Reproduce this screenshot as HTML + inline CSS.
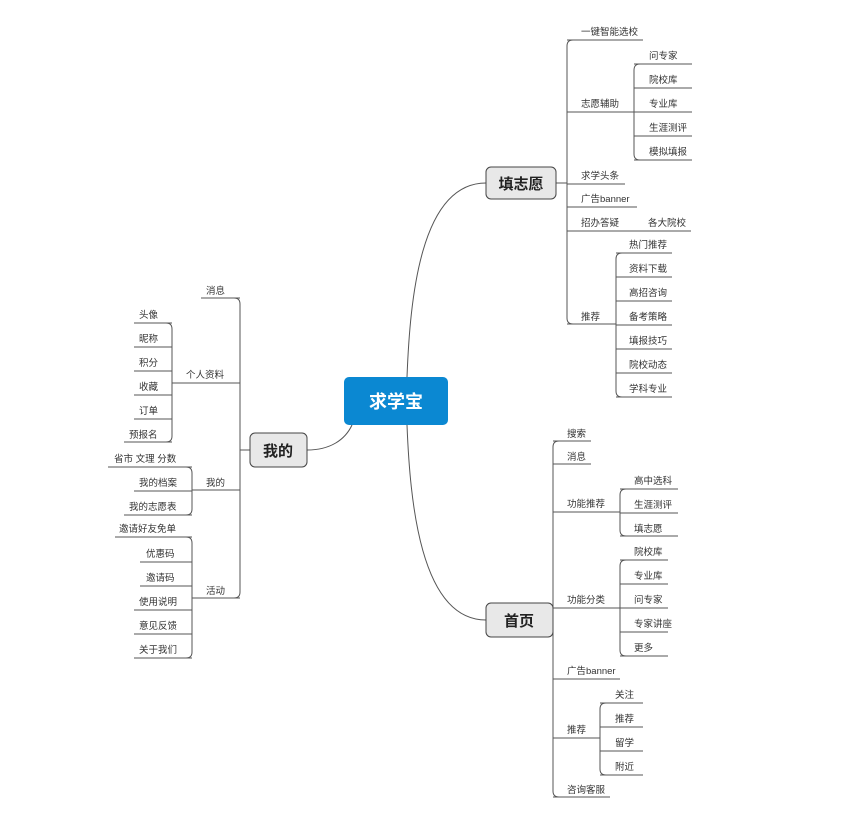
<!DOCTYPE html>
<html><head><meta charset="utf-8"><style>
html,body{margin:0;padding:0;background:#fff;}
svg{display:block;}
text{font-family:"Liberation Sans","Noto Sans CJK SC",sans-serif;font-size:9.5px;fill:#333;}
.l{stroke:#555;stroke-width:1;fill:none;}
.b{font-size:15px;font-weight:bold;fill:#222;}
</style></head><body>
<svg width="854" height="839" viewBox="0 0 854 839" xmlns="http://www.w3.org/2000/svg">
<!-- main curves -->
<path class="l" d="M407,377 C410,300 420,183 486,183"/>
<path class="l" d="M407,425 C410,500 420,620 486,620"/>
<path class="l" d="M352,425 C345,440 330,450 307,450"/>

<!-- center -->
<rect x="344" y="377" width="104" height="48" rx="5" fill="#0b88d2"/>
<text x="396" y="408" text-anchor="middle" style="font-size:18px;font-weight:bold;fill:#fff">求学宝</text>

<!-- 填志愿 -->
<line class="l" x1="556" y1="183" x2="567" y2="183"/>
<path class="l" d="M573,40 Q567,40 567,46 L567,318 Q567,324 573,324"/>
<rect x="486" y="167" width="70" height="32" rx="5" fill="#e8e8e8" stroke="#444"/>
<text x="521" y="189" text-anchor="middle" class="b">填志愿</text>
<line class="l" x1="567" y1="40" x2="643" y2="40"/><text x="581" y="35">一键智能选校</text>
<line class="l" x1="567" y1="112" x2="634" y2="112"/><text x="581" y="107">志愿辅助</text>
<path class="l" d="M640,64 Q634,64 634,70 L634,154 Q634,160 640,160"/>
<line class="l" x1="634" y1="64" x2="692" y2="64"/><text x="649" y="59">问专家</text>
<line class="l" x1="634" y1="88" x2="692" y2="88"/><text x="649" y="83">院校库</text>
<line class="l" x1="634" y1="112" x2="692" y2="112"/><text x="649" y="107">专业库</text>
<line class="l" x1="634" y1="136" x2="692" y2="136"/><text x="649" y="131">生涯测评</text>
<line class="l" x1="634" y1="160" x2="692" y2="160"/><text x="649" y="155">模拟填报</text>
<line class="l" x1="567" y1="184" x2="625" y2="184"/><text x="581" y="179">求学头条</text>
<line class="l" x1="567" y1="207" x2="637" y2="207"/><text x="581" y="202">广告banner</text>
<line class="l" x1="567" y1="231" x2="691" y2="231"/><text x="581" y="226">招办答疑</text><text x="648" y="226">各大院校</text>
<line class="l" x1="567" y1="324" x2="616" y2="324"/><text x="581" y="320">推荐</text>
<path class="l" d="M622,253 Q616,253 616,259 L616,391 Q616,397 622,397"/>
<line class="l" x1="616" y1="253" x2="672" y2="253"/><text x="629" y="248">热门推荐</text>
<line class="l" x1="616" y1="277" x2="672" y2="277"/><text x="629" y="272">资料下载</text>
<line class="l" x1="616" y1="301" x2="672" y2="301"/><text x="629" y="296">高招咨询</text>
<line class="l" x1="616" y1="325" x2="672" y2="325"/><text x="629" y="320">备考策略</text>
<line class="l" x1="616" y1="349" x2="672" y2="349"/><text x="629" y="344">填报技巧</text>
<line class="l" x1="616" y1="373" x2="672" y2="373"/><text x="629" y="368">院校动态</text>
<line class="l" x1="616" y1="397" x2="672" y2="397"/><text x="629" y="392">学科专业</text>

<!-- 我的 -->
<line class="l" x1="240" y1="450" x2="250" y2="450"/>
<path class="l" d="M234,298 Q240,298 240,304 L240,592 Q240,598 234,598"/>
<rect x="250" y="433" width="57" height="34" rx="5" fill="#e8e8e8" stroke="#444"/>
<text x="278" y="456" text-anchor="middle" class="b">我的</text>
<line class="l" x1="201" y1="298" x2="240" y2="298"/><text x="206" y="294">消息</text>
<line class="l" x1="172" y1="383" x2="240" y2="383"/><text x="186" y="378">个人资料</text>
<path class="l" d="M166,323 Q172,323 172,329 L172,436 Q172,442 166,442"/>
<line class="l" x1="134" y1="323" x2="172" y2="323"/><text x="139" y="318">头像</text>
<line class="l" x1="134" y1="347" x2="172" y2="347"/><text x="139" y="342">昵称</text>
<line class="l" x1="134" y1="371" x2="172" y2="371"/><text x="139" y="366">积分</text>
<line class="l" x1="134" y1="395" x2="172" y2="395"/><text x="139" y="390">收藏</text>
<line class="l" x1="134" y1="419" x2="172" y2="419"/><text x="139" y="414">订单</text>
<line class="l" x1="124" y1="442" x2="172" y2="442"/><text x="129" y="438">预报名</text>
<line class="l" x1="192" y1="490" x2="240" y2="490"/><text x="206" y="486">我的</text>
<path class="l" d="M186,467 Q192,467 192,473 L192,509 Q192,515 186,515"/>
<line class="l" x1="108" y1="467" x2="192" y2="467"/><text x="114" y="462">省市 文理 分数</text>
<line class="l" x1="134" y1="491" x2="192" y2="491"/><text x="139" y="486">我的档案</text>
<line class="l" x1="124" y1="515" x2="192" y2="515"/><text x="129" y="510">我的志愿表</text>
<line class="l" x1="192" y1="598" x2="240" y2="598"/><text x="206" y="594">活动</text>
<path class="l" d="M186,537 Q192,537 192,543 L192,652 Q192,658 186,658"/>
<line class="l" x1="115" y1="537" x2="192" y2="537"/><text x="119" y="532">邀请好友免单</text>
<line class="l" x1="140" y1="562" x2="192" y2="562"/><text x="146" y="557">优惠码</text>
<line class="l" x1="140" y1="586" x2="192" y2="586"/><text x="146" y="581">邀请码</text>
<line class="l" x1="134" y1="610" x2="192" y2="610"/><text x="139" y="605">使用说明</text>
<line class="l" x1="134" y1="634" x2="192" y2="634"/><text x="139" y="629">意见反馈</text>
<line class="l" x1="134" y1="658" x2="192" y2="658"/><text x="139" y="653">关于我们</text>

<!-- 首页 -->
<line class="l" x1="553" y1="620" x2="553" y2="620"/>
<path class="l" d="M559,441 Q553,441 553,447 L553,791 Q553,797 559,797"/>
<rect x="486" y="603" width="67" height="34" rx="5" fill="#e8e8e8" stroke="#444"/>
<text x="519" y="626" text-anchor="middle" class="b">首页</text>
<line class="l" x1="553" y1="441" x2="591" y2="441"/><text x="567" y="437">搜索</text>
<line class="l" x1="553" y1="464" x2="591" y2="464"/><text x="567" y="460">消息</text>
<line class="l" x1="553" y1="512" x2="620" y2="512"/><text x="567" y="507">功能推荐</text>
<path class="l" d="M626,489 Q620,489 620,495 L620,530 Q620,536 626,536"/>
<line class="l" x1="620" y1="489" x2="678" y2="489"/><text x="634" y="484">高中选科</text>
<line class="l" x1="620" y1="513" x2="678" y2="513"/><text x="634" y="508">生涯测评</text>
<line class="l" x1="620" y1="536" x2="678" y2="536"/><text x="634" y="532">填志愿</text>
<line class="l" x1="553" y1="608" x2="620" y2="608"/><text x="567" y="603">功能分类</text>
<path class="l" d="M626,560 Q620,560 620,566 L620,650 Q620,656 626,656"/>
<line class="l" x1="620" y1="560" x2="668" y2="560"/><text x="634" y="555">院校库</text>
<line class="l" x1="620" y1="584" x2="668" y2="584"/><text x="634" y="579">专业库</text>
<line class="l" x1="620" y1="608" x2="668" y2="608"/><text x="634" y="603">问专家</text>
<line class="l" x1="620" y1="632" x2="668" y2="632"/><text x="634" y="627">专家讲座</text>
<line class="l" x1="620" y1="656" x2="668" y2="656"/><text x="634" y="651">更多</text>
<line class="l" x1="553" y1="679" x2="620" y2="679"/><text x="567" y="674">广告banner</text>
<line class="l" x1="553" y1="738" x2="600" y2="738"/><text x="567" y="733">推荐</text>
<path class="l" d="M606,703 Q600,703 600,709 L600,769 Q600,775 606,775"/>
<line class="l" x1="600" y1="703" x2="643" y2="703"/><text x="615" y="698">关注</text>
<line class="l" x1="600" y1="727" x2="643" y2="727"/><text x="615" y="722">推荐</text>
<line class="l" x1="600" y1="751" x2="643" y2="751"/><text x="615" y="746">留学</text>
<line class="l" x1="600" y1="775" x2="643" y2="775"/><text x="615" y="770">附近</text>
<line class="l" x1="553" y1="797" x2="610" y2="797"/><text x="567" y="793">咨询客服</text>
</svg>
</body></html>
